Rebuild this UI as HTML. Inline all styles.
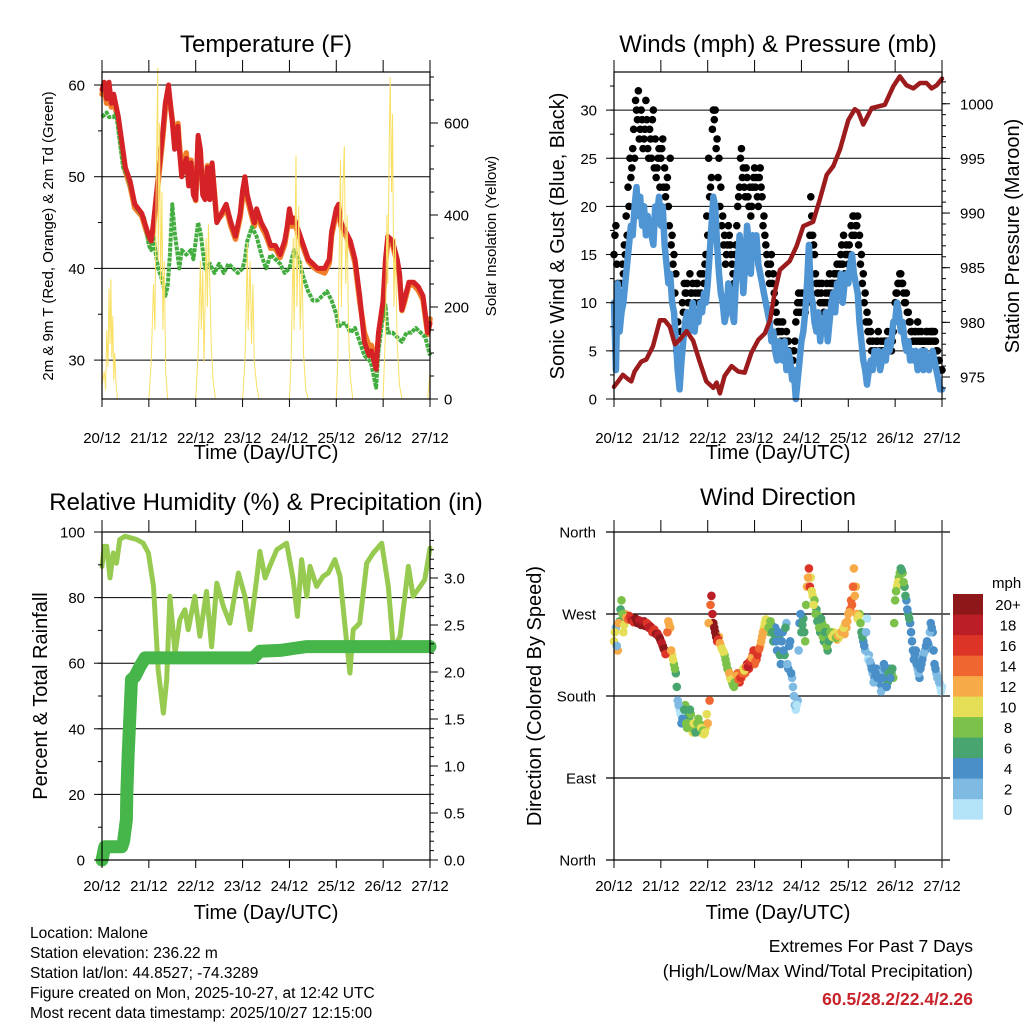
<!DOCTYPE html>
<html><head><meta charset="utf-8"><style>
html,body{margin:0;padding:0;background:#fff;}
svg{display:block;font-family:"Liberation Sans",sans-serif;}
</style></head><body>
<svg id="fig" width="1024" height="1024" viewBox="0 0 1024 1024" xmlns="http://www.w3.org/2000/svg">
<rect width="1024" height="1024" fill="#fff"/>
<g id="layer-grid"></g>
<g id="layer-data"></g>
<g id="layer-axes"></g>
<g id="layer-text"></g>
</svg>
<script>
// ---------- DATA ----------
const dayLabels = ["20/12","21/12","22/12","23/12","24/12","25/12","26/12","27/12"];
// Temperature panel
const tempT = [0,0.05,0.1,0.15,0.2,0.25,0.35,0.5,0.6,0.7,0.85,1.0,1.05,1.1,1.2,1.3,1.35,1.42,1.5,1.55,1.62,1.65,1.7,1.8,1.85,1.9,1.95,2.0,2.05,2.1,2.15,2.2,2.25,2.3,2.35,2.4,2.45,2.55,2.65,2.7,2.75,2.85,2.95,3.0,3.05,3.1,3.15,3.25,3.3,3.4,3.5,3.6,3.7,3.8,3.9,3.95,4.0,4.05,4.1,4.2,4.3,4.4,4.5,4.6,4.75,4.85,4.9,5.0,5.05,5.1,5.2,5.3,5.4,5.5,5.6,5.7,5.75,5.85,5.9,6.0,6.05,6.1,6.2,6.3,6.35,6.4,6.45,6.55,6.65,6.75,6.85,6.95,7.0];
const temp2m = [59.5,60.3,58.5,60.3,58,59,56.5,51,49.5,47,46,43.5,43,45,50,55,58,60,56,53,55.5,53,50,52,49,51.5,48,47.5,54.5,53,48,47.5,51,47.5,51.5,48,45,46,47,46,45,43.5,46,48.5,50,48,47,45,46.5,45,44,42.5,42.5,41.5,43,44.5,46.5,45,45.5,44,42.5,41,40.5,40,40,41,44,46.5,47,45,44,43,41,37,32,30.5,31,29,33,36.5,41,43.5,43,41,39.5,35.5,36.5,38.5,38.5,38,37,33,34];
const temp9m = [59,59.6,58,59.5,57.6,58.4,56,50.6,49,46.6,45.7,43.2,42.8,44.6,49.4,54.4,57.4,59.2,56.2,53.8,55.8,53.6,50.8,52.6,49.6,51.8,48.4,47.4,54,52.6,48.4,47.8,51.2,47.8,51.2,48.2,45.2,45.8,46.6,45.6,44.6,43.2,45.6,47.8,49.2,47.6,46.6,44.6,46,44.6,43.6,42.2,42.2,41.2,42.6,44.2,45.8,44.6,45,43.6,42.2,40.8,40.2,39.8,39.5,40.6,43.6,46,46.4,44.6,43.6,42.6,40.6,36.4,33,31.5,31.6,29.6,32.6,36,40.6,43,42.6,40.6,39.2,35.4,36.2,38.2,38.2,37.6,36.6,32.8,34.5];
const tdT = [0,0.1,0.15,0.25,0.3,0.35,0.45,0.55,0.65,0.75,0.9,1.0,1.05,1.1,1.15,1.2,1.3,1.35,1.4,1.45,1.5,1.55,1.6,1.65,1.7,1.8,1.9,1.95,2.05,2.1,2.15,2.2,2.3,2.4,2.5,2.6,2.7,2.8,2.9,3.0,3.05,3.1,3.2,3.3,3.4,3.5,3.6,3.7,3.8,3.9,4.0,4.1,4.2,4.3,4.4,4.5,4.6,4.7,4.8,4.9,5.0,5.05,5.1,5.2,5.3,5.4,5.5,5.6,5.7,5.75,5.85,5.9,6.0,6.05,6.1,6.2,6.3,6.4,6.5,6.6,6.7,6.8,6.9,7.0];
const dew2m = [56.5,57,56.5,56.5,57,55,51,50,48,46.5,45.5,42.5,42,43.5,41.5,40,38.5,37,38,41.5,47,44,42,40,42,41.5,42,41,45,44,42,40,40.5,39.5,40.5,39.5,40.5,40,39.5,40,41,43,44.5,43.5,41.5,40,41.5,41,40.5,39.5,40,42,41,39,37.5,36.5,36.5,37,37.5,36.5,35,33.5,34,34,33,33.5,32,30.5,30,29.5,27,31,35,36,33,33,32.5,32,33,33,33.5,33,32.5,30.5];
const solarT = [0,0.05,0.08,0.1,0.13,0.15,0.17,0.19,0.21,0.23,0.25,0.27,0.3,0.33,1.0,1.05,1.1,1.13,1.16,1.19,1.2,1.23,1.25,1.28,1.3,1.33,1.36,1.4,2.0,2.05,2.1,2.12,2.15,2.18,2.22,2.25,2.27,2.3,2.33,2.37,2.42,3.0,3.05,3.08,3.1,3.12,3.16,3.19,3.22,3.25,3.3,3.35,4.0,4.04,4.08,4.1,4.14,4.16,4.2,4.23,4.27,4.3,4.35,4.4,5.0,5.03,5.06,5.09,5.11,5.14,5.17,5.2,5.23,5.26,5.3,5.35,6.0,6.05,6.08,6.1,6.13,6.15,6.18,6.2,6.23,6.26,6.3,6.35,6.4,6.95,7.0];
const solarV = [30,60,20,150,70,240,120,260,90,180,40,100,30,0,0,80,250,150,500,720,300,600,250,450,150,300,60,0,0,100,300,150,280,80,350,200,380,250,120,40,0,0,80,200,340,150,300,120,250,80,30,0,0,100,350,150,530,200,420,150,300,100,20,0,0,80,300,520,200,450,550,250,400,150,50,0,0,150,400,250,550,700,450,620,200,350,120,30,0,0,60];
// Wind panel (samples every 0.04 day; second gust/direction series offset by half a step)
const windStep = 0.04;
const sonicWind = [10,3,12,7,9,10,12,14,16,18,17,20,22,19,21,18,20,17,19,18,17,16,20,19,21,
18,20,16,14,12,13,10,9,6,3,1,4,6,8,9,7,8,10,7,9,8,10,9,11,10,
12,15,18,21,20,16,13,11,10,8,9,12,11,9,8,12,14,17,15,11,14,18,16,13,17,
15,17,14,13,12,11,10,9,8,6,7,5,4,6,5,4,6,3,5,4,2,3,0,2,4,
6,7,9,12,16,11,10,8,7,9,6,8,7,9,6,8,10,11,9,12,11,13,10,12,13,
12,14,15,13,12,11,8,6,4,3,1.5,3,4,3,5,4,5,3,4,5,4,6,5,6,8,
8,10,9,7,8,6,5,6,4,5,4,5,3,4,5,3,5,4,3,4,5,4,3,2,1,1];
const gustWind = [15,18,12,10,11,13,15,17,20,23,26,25,30,32,28,29,27,31,26,28,25,30,27,24,26,
25,27,24,22,20,25,17,15,13,8,3,5,9,11,12,10,11,12,10,12,11,13,10,12,15,
17,21,23,30,30,27,25,22,19,17,15,18,16,14,12,16,20,22,26,24,21,23,20,19,22,
24,23,20,24,21,19,16,14,12,15,13,10,8,7,6,8,5,7,6,4,3,5,8,10,9,
11,10,9,10,13,21,17,15,12,11,10,12,9,11,10,13,11,12,13,14,12,15,14,13,16,
14,15,17,19,18,19,17,15,13,11,9,8,7,6,5,6,7,4,5,6,5,7,6,5,7,
10,11,12,13,12,10,11,9,8,7,6,7,8,6,7,5,6,7,6,6,7,7,5,4,3,3];
const gustWind2 = [17,14,11,12,14,16,19,22,25,24,28,31,29,27,30,26,28,29,25,27,29,24,23,25,22,
26,22,21,23,18,16,14,11,5,4,7,10,12,11,10,13,11,9,11,12,10,11,13,14,19,
25,22,28,29,26,23,20,18,16,14,16,17,15,13,15,18,21,25,23,22,24,21,22,20,23,
22,21,23,22,18,17,15,13,14,12,11,9,7,8,7,6,6,5,5,4,4,6,9,11,10,
9,11,10,12,17,19,16,13,11,12,11,10,10,12,11,12,12,13,12,13,14,16,17,15,15,
16,18,19,17,18,16,14,12,10,8,7,6,5,4,5,6,5,6,5,6,6,5,6,6,8,
11,12,13,12,11,10,9,8,7,6,7,6,7,6,6,6,7,6,7,7,6,6,5,4,3];
const presT = [0,0.09,0.19,0.3,0.37,0.44,0.58,0.69,0.83,0.98,1.08,1.19,1.3,1.4,1.55,1.69,1.83,1.97,2.12,2.19,2.26,2.36,2.51,2.65,2.79,2.93,3.08,3.22,3.33,3.43,3.54,3.75,3.9,4.04,4.25,4.39,4.54,4.68,4.82,5.0,5.14,5.21,5.32,5.5,5.78,5.96,6.1,6.24,6.39,6.53,6.67,6.78,6.89,7.0];
const pressure = [974.1,974.6,975.2,974.8,974.6,975.5,976.4,976.6,977.8,980.2,980.2,979.6,978,978.4,979.2,978.3,976.4,974.6,974,974.5,973.5,975.1,976,975.5,975.4,977.2,978.4,979,980.2,982.7,984.8,985.6,987,988.8,989.2,991.2,993.5,994.3,995.8,998.5,999.5,999.3,998.1,999.6,999.9,1001.6,1002.5,1001.7,1001.4,1001.9,1001.9,1001.4,1001.7,1002.3];
// RH / precip panel
const rhT = [0,0.05,0.1,0.17,0.24,0.31,0.38,0.49,0.74,0.88,0.99,1.1,1.2,1.31,1.38,1.45,1.56,1.66,1.77,1.84,1.98,2.09,2.23,2.34,2.45,2.59,2.73,2.91,3.05,3.16,3.3,3.37,3.48,3.58,3.73,3.94,4.08,4.17,4.26,4.37,4.44,4.58,4.72,4.83,4.97,5.08,5.18,5.29,5.36,5.5,5.65,5.79,5.97,6.11,6.22,6.36,6.54,6.64,6.79,6.89,7.0];
const rh = [89.5,95.6,95.6,86,93.6,90.5,97.7,98.7,97.7,96.6,93.6,83.4,58,44.8,55,80.4,63,73.3,76.3,70.2,80.4,68.2,81.9,65,84.4,77.3,72.2,87.5,80.4,70.2,85.5,94.1,86,89.5,94.6,96.6,85.5,74.3,91.6,80.4,89.5,83.4,86.5,87.5,91.6,86.5,72.2,57,70.2,72.2,90.5,93.6,96.6,83.4,64.1,68.2,89.5,80.4,83.4,85.5,95.1];
const precipT = [0,0.06,0.42,0.46,0.52,0.53,0.56,0.63,0.7,0.81,0.92,3.23,3.37,3.8,4.08,4.37,7.0];
const precip = [0,0.14,0.14,0.2,0.43,0.7,1.13,1.92,1.95,2.06,2.15,2.15,2.22,2.23,2.25,2.27,2.27];
// Wind direction (degrees); colour from sonicWind at the same sample
const windDir = [240,255,230,262,285,250,270,265,268,266,264,262,263,262,261,260,262,258,259,257,255,252,250,249,245,
240,235,230,228,262,255,225,215,205,175,165,150,160,170,145,155,160,140,150,145,155,140,148,138,145,
150,175,290,260,250,240,245,235,230,225,215,208,200,195,190,200,205,195,200,210,205,215,210,220,225,
215,220,230,235,245,255,264,260,250,258,240,255,230,245,215,250,225,260,210,240,200,180,165,175,260,
250,265,240,300,320,310,290,285,275,268,250,260,240,255,230,245,248,250,246,242,244,250,252,248,255,
270,275,280,320,300,265,270,250,240,230,265,225,215,205,200,210,195,205,190,215,200,195,210,205,200,
285,300,310,320,315,300,285,270,260,240,220,230,210,200,215,225,230,240,235,260,250,215,205,200,190,190];
const windDir2 = [250,235,260,275,270,258,266,264,267,263,261,265,260,263,258,261,257,260,255,256,250,253,248,247,243,
238,232,226,250,258,230,220,210,190,170,160,155,165,150,150,165,145,150,140,150,148,145,142,140,160,
260,280,270,255,245,242,238,232,228,220,210,205,198,192,195,202,198,200,205,208,212,212,218,222,230,
218,225,232,240,250,260,262,255,262,250,248,240,250,225,240,230,255,215,235,205,190,170,170,230,270,
258,250,280,310,300,295,280,270,262,255,265,245,250,235,240,250,245,248,244,246,248,250,255,260,262,
272,285,300,290,270,268,260,245,235,250,220,218,210,195,205,200,200,185,200,210,190,205,200,210,260,
295,305,315,318,305,290,275,265,250,230,225,215,205,210,220,228,235,238,250,255,230,210,200,195,185];
const speedColors = ["#b3e3f7","#7fbae3","#4a8fc7","#48a56f","#7cc24a","#e5df58","#f6aa48","#ef6630","#dc3427","#bb1e26","#8e1719"];
const speedLabels = ["0","2","4","6","8","10","12","14","16","18","20+"];

// ---------- helpers ----------
const NS = "http://www.w3.org/2000/svg";
const G = document.getElementById("layer-grid"), D = document.getElementById("layer-data"),
      A = document.getElementById("layer-axes"), T = document.getElementById("layer-text");
function mk(parent, tag, attrs){const e=document.createElementNS(NS,tag);for(const k in attrs)e.setAttribute(k,attrs[k]);parent.appendChild(e);return e;}
function ln(p,x1,y1,x2,y2,c,w){return mk(p,"line",{x1:x1,y1:y1,x2:x2,y2:y2,stroke:c||"#000","stroke-width":w||1});}
function tx(p,x,y,s,size,anchor,extra){const e=mk(p,"text",Object.assign({x:x,y:y,"font-size":size,"text-anchor":anchor||"middle",fill:"#000"},extra||{}));e.textContent=s;return e;}
function path(p,xsArr,ysArr,c,w,extra){let d="";for(let i=0;i<xsArr.length;i++)d+=(i?"L":"M")+xsArr[i].toFixed(1)+","+ysArr[i].toFixed(1);return mk(p,"path",Object.assign({d:d,fill:"none",stroke:c,"stroke-width":w,"stroke-linejoin":"round","stroke-linecap":"round"},extra||{}));}

const PW = 328, TOP = 72, BOT = 399;
function xL(d){return 102 + d*PW/7;}
function xR(d){return 614 + d*PW/7;}
const yTemp = t => 85 + (60 - t)*9.17;
const ySol = v => 399 - v*0.46;
const yWind = v => 399 - v*9.63;
const yPres = p => 377 - (p - 975)*10.93;
const yRH = v => 860 - v*3.28;
const yPr = v => 860 - v*94;
const yDir = d => 860 - d*328/360;
const spdColor = s => speedColors[Math.min(10,Math.floor(s/2))];

function xAxis(xf, yb, ytop, tickLabelY, panel){
  for(let i=0;i<dayLabels.length;i++){
    const x = xf(i);
    let el = ln(A,x,yb,x,yb+8);
    
    
    el = ln(A,x,ytop-12,x,ytop);
    
    
    el = tx(T,x,tickLabelY,dayLabels[i],15);
    
    
  }
}
function yAxis(x0,x1,yf,majors,minors,labels,side,panel,grid,lblX){
  const dir = side==='left' ? -1 : 1;
  const xe = side==='left' ? x0 : x1;
  minors.forEach(v=>{
    const el = ln(A,xe,yf(v),xe+dir*4,yf(v));
    
    
  });
  majors.forEach((v,i)=>{
    const y = yf(v);
    let el = ln(A,xe,y,xe+dir*8,y);
    
    
    if(grid){
      el = ln(G,x0,y,x1,y,"#000",1);
      
      
    }
    el = tx(T,lblX,y+5.5,labels[i],15,side==='left'?'end':'start');
    
    
  });
}
function frame(x0,y0,x1,y1,panel){
  const el = mk(A,"rect",{x:x0,y:y0,width:x1-x0,height:y1-y0,fill:"none",stroke:"#000","stroke-width":1.2});
  
  
}
function rng(a,b,s){const r=[];for(let v=a;v<=b+1e-9;v+=s)r.push(+v.toFixed(3));return r;}

// ---------- Panel 1: Temperature ----------
(function(){
  const p="temp";
  frame(102,TOP,430,BOT,p);
  xAxis(xL,BOT,TOP,443,p);
  yAxis(102,430,yTemp,[30,40,50,60],[35,45,55],["30","40","50","60"],"left",p,true,85);
  yAxis(102,430,ySol,[0,200,400,600],rng(0,700,50),["0","200","400","600"],"right",p,false,444);
  let el;
  el = path(D,temp9m.map((v,i)=>xL(tempT[i])),temp9m.map(yTemp),"#f07f2a",5.5);
  
  
  el = path(D,dew2m.map((v,i)=>xL(tdT[i])),dew2m.map(yTemp),"#44ad3f",4,{"stroke-dasharray":"4 1","stroke-linecap":"butt"});
  
  
  el = path(D,temp2m.map((v,i)=>xL(tempT[i])),temp2m.map(yTemp),"#d42226",5);
  
  
  el = path(D,solarV.map((v,i)=>xL(solarT[i])),solarV.map(ySol),"#f9e064",1,{"stroke-linejoin":"miter"});
  
  
  el = tx(T,266,52,"Temperature (F)",24);
  
  
  el = tx(T,266,459,"Time (Day/UTC)",20);
  
  
  el = tx(T,0,0,"2m & 9m T (Red, Orange) & 2m Td (Green)",15,"middle",{transform:"translate(53,236) rotate(-90)"});
  
  
  el = tx(T,0,0,"Solar Insolation (Yellow)",15,"middle",{transform:"translate(496,236) rotate(-90)"});
  
  
})();

// ---------- Panel 2: Winds & Pressure ----------
(function(){
  const p="wind";
  frame(614,TOP,942,BOT,p);
  xAxis(xR,BOT,TOP,443,p);
  yAxis(614,942,yWind,[0,5,10,15,20,25,30],rng(0,32.5,2.5),["0","5","10","15","20","25","30"],"left",p,true,597);
  yAxis(614,942,yPres,[975,980,985,990,995,1000],rng(973,1002,1),["975","980","985","990","995","1000"],"right",p,false,960);
  let el;
  gustWind.forEach((v,i)=>{
    el = mk(D,"circle",{cx:xR(i*windStep),cy:yWind(v),r:3.8,fill:"#000"});
    
    
  });
  gustWind2.forEach((v,i)=>{
    el = mk(D,"circle",{cx:xR((i+0.5)*windStep),cy:yWind(v),r:3.8,fill:"#000"});
    
    
  });
  el = path(D,sonicWind.map((v,i)=>xR(i*windStep)),sonicWind.map(yWind),"#4f95d3",6.5);
  
  
  el = path(D,pressure.map((v,i)=>xR(presT[i])),pressure.map(yPres),"#9c1b1d",4.5);
  
  
  el = tx(T,778,52,"Winds (mph) & Pressure (mb)",24);
  
  
  el = tx(T,778,459,"Time (Day/UTC)",20);
  
  
  el = tx(T,0,0,"Sonic Wind & Gust (Blue, Black)",20,"middle",{transform:"translate(564,236) rotate(-90)"});
  
  
  el = tx(T,0,0,"Station Pressure (Maroon)",20,"middle",{transform:"translate(1019,236) rotate(-90)"});
  
  
})();

// ---------- Panel 3: RH & Precip ----------
(function(){
  const p="rh";
  frame(102,532,430,860,p);
  xAxis(xL,860,532,891,p);
  yAxis(102,430,yRH,[0,20,40,60,80,100],rng(0,100,10),["0","20","40","60","80","100"],"left",p,true,85);
  yAxis(102,430,yPr,[0,0.5,1,1.5,2,2.5,3],rng(0,3.4,0.1),["0.0","0.5","1.0","1.5","2.0","2.5","3.0"],"right",p,false,444);
  let el;
  el = path(D,rh.map((v,i)=>xL(rhT[i])),rh.map(yRH),"#97ca50",5);
  
  
  el = path(D,precip.map((v,i)=>xL(precipT[i])),precip.map(yPr),"#46b54a",13);
  
  
  el = tx(T,266,510,"Relative Humidity (%) & Precipitation (in)",24);
  
  
  el = tx(T,266,919,"Time (Day/UTC)",20);
  
  
  el = tx(T,0,0,"Percent & Total Rainfall",20,"middle",{transform:"translate(47,696) rotate(-90)"});
  
  
})();

// ---------- Panel 4: Wind Direction ----------
(function(){
  const p="dir";
  let el;
  el = ln(A,614,532,614,860,"#000",1.2);
  
  
  el = ln(A,942,532,942,860,"#555",1.5);
  
  
  xAxis(xR,860,532,891,p);
  const dirVals=[0,90,180,270,360], dirNames=["North","East","South","West","North"];
  dirVals.forEach((v,i)=>{
    el = ln(G,606,yDir(v),950,yDir(v),"#000",1.2);
    
    
    el = tx(T,596,yDir(v)+5.5,dirNames[i],15,"end");
    
    
  });
  windDir.forEach((d,i)=>{
    el = mk(D,"circle",{cx:xR(i*windStep),cy:yDir(d),r:4.3,fill:spdColor(sonicWind[i])});
    
    
  });
  windDir2.forEach((d,i)=>{
    el = mk(D,"circle",{cx:xR((i+0.5)*windStep),cy:yDir(d),r:4.3,fill:spdColor(sonicWind[i])});
    
    
  });
  for(let k=0;k<11;k++){
    const y = 594 + (10-k)*20.5;
    el = mk(A,"rect",{x:953,y:y,width:30,height:20.6,fill:speedColors[k]});
    
    
    el = tx(T,1008,y+16,speedLabels[k],15);
    
    
  }
  el = tx(T,992,588,"mph",15,"start");
  
  
  el = tx(T,778,505,"Wind Direction",24);
  
  
  el = tx(T,778,919,"Time (Day/UTC)",20);
  
  
  el = tx(T,0,0,"Direction (Colored By Speed)",20,"middle",{transform:"translate(541,696) rotate(-90)"});
  
  
})();

// ---------- Footer ----------
(function(){
  const info=["Location: Malone","Station elevation: 236.22 m","Station lat/lon: 44.8527; -74.3289","Figure created on Mon, 2025-10-27, at 12:42 UTC","Most recent data timestamp: 2025/10/27 12:15:00"];
  let el;
  info.forEach((s,i)=>{
    el = tx(T,30,938+i*20,s,15.5,"start");
    
    
  });
  el = tx(T,973,952,"Extremes For Past 7 Days",17.5,"end");
  
  
  el = tx(T,973,977,"(High/Low/Max Wind/Total Precipitation)",17.5,"end");
  
  
  el = tx(T,973,1005,"60.5/28.2/22.4/2.26",17.5,"end",{"font-weight":"bold",fill:"#c8222b"});
  
  
})();
</script>
</body></html>
